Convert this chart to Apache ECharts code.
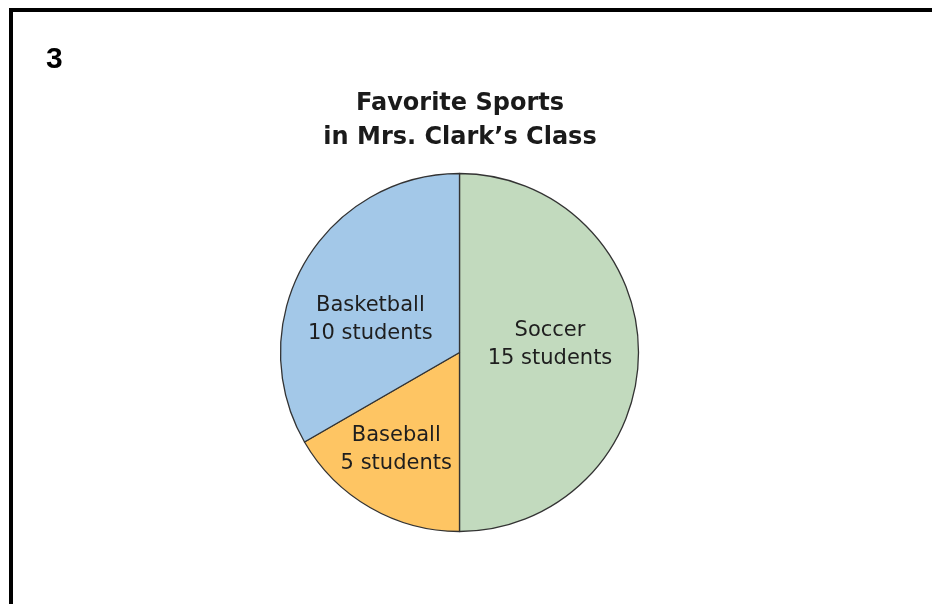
<!DOCTYPE html>
<html>
<head>
<meta charset="utf-8">
<script src="https://cdn.jsdelivr.net/npm/echarts@6/dist/echarts.min.js"></script>
<style>
html,body{margin:0;padding:0;background:#fff;}
#chart{width:932px;height:604px;}
</style>
</head>
<body>
<div id="chart"></div>
<script>
const categories = ['Soccer', 'Baseball', 'Basketball'];
const students = [15, 5, 10];
const colors = ['#c2dabe', '#fec563', '#a3c8e8'];
const labelOffsets = [[-2, -8], [-17, 17], [-9, 13]];

const chart = echarts.init(document.getElementById('chart'));
chart.setOption({
  animation: false,
  title: [
    {
      text: 'Favorite Sports\nin Mrs. Clark\u2019s Class',
      left: 455,
      top: 82,
      textAlign: 'center',
      textStyle: {
        fontFamily: 'DejaVu Sans',
        fontWeight: 'bold',
        fontSize: 24,
        lineHeight: 34,
        color: '#1a1a1a'
      }
    },
    {
      text: '3',
      left: 41,
      top: 40,
      textStyle: {
        fontFamily: 'Liberation Sans',
        fontWeight: 'bold',
        fontSize: 30,
        color: '#000'
      }
    }
  ],
  graphic: [
    {
      type: 'rect',
      shape: { x: 11, y: 10, width: 1000, height: 700 },
      style: { fill: 'none', stroke: '#000', lineWidth: 4 }
    }
  ],
  series: [
    {
      type: 'pie',
      center: [459.5, 352.5],
      radius: 179,
      startAngle: 90,
      clockwise: true,
      silent: true,
      itemStyle: { borderColor: '#333', borderWidth: 1.3 },
      label: {
        show: true,
        position: 'inner',
        formatter: p => p.name + '\n' + p.value + ' students',
        fontFamily: 'DejaVu Sans',
        fontSize: 21,
        lineHeight: 28,
        color: '#1e1e1e',
        align: 'center'
      },
      labelLine: { show: false },
      data: categories.map((c, i) => ({
        name: c,
        value: students[i],
        itemStyle: { color: colors[i] },
        label: { offset: labelOffsets[i] }
      }))
    }
  ]
});
</script>
</body>
</html>
